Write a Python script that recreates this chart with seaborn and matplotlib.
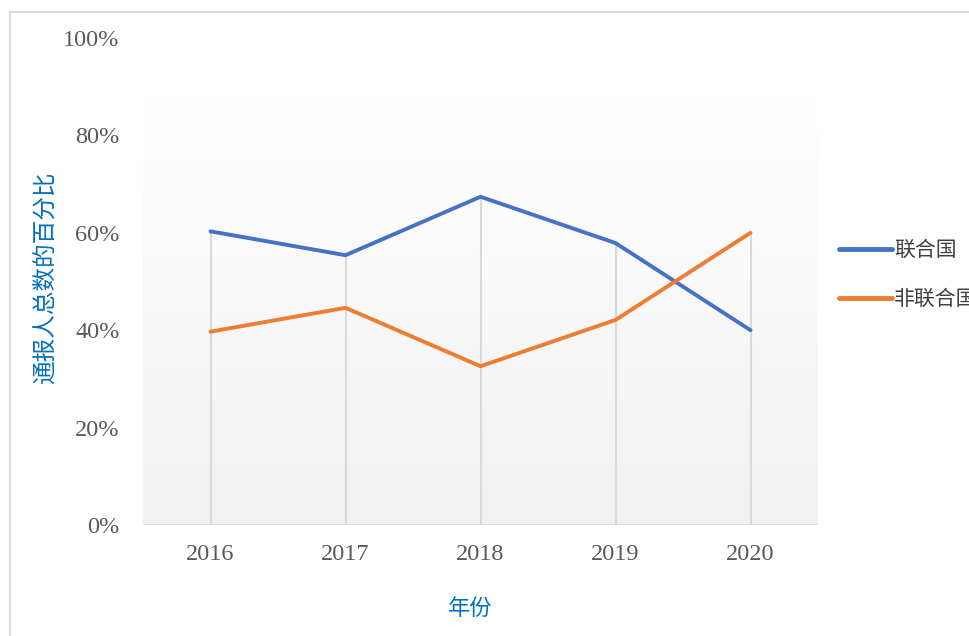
import matplotlib
matplotlib.use("Agg")
import matplotlib.pyplot as plt
from matplotlib.colors import LinearSegmentedColormap
from matplotlib.patches import Rectangle
from matplotlib.lines import Line2D
from matplotlib.ticker import PercentFormatter
import seaborn as sns
import numpy as np
import pandas as pd

years = [2016, 2017, 2018, 2019, 2020]
un_share = [0.603, 0.554, 0.674, 0.579, 0.400]
non_un_share = [0.397, 0.446, 0.326, 0.421, 0.600]
series_names = ["联合国", "非联合国"]
y_ticks = [0, 0.2, 0.4, 0.6, 0.8, 1.0]

df = pd.DataFrame({
    "年份": years * 2,
    "比例": un_share + non_un_share,
    "类别": [series_names[0]] * len(years) + [series_names[1]] * len(years),
})

sns.set_theme(style="white")
plt.rcParams["font.family"] = ["Liberation Serif", "Noto Sans CJK SC"]

fig = plt.figure(figsize=(9.7, 6.36), dpi=100)
ax = fig.add_axes([143 / 970, 1 - 525 / 636, (818 - 143) / 970, (525 - 38) / 636])

# gradient plot area (Excel style), top edge sits a little below 100%
grad = LinearSegmentedColormap.from_list("g", ["#ffffff", "#f1f1f1"])
top = (525 - 100) / 487
ax.imshow(np.linspace(0, 1, 256).reshape(-1, 1), cmap=grad, aspect="auto",
          extent=[2015.5, 2020.5, 0, top], origin="upper", zorder=0)

# drop lines up to the highest value of each year
highs = np.maximum(un_share, non_un_share)
ax.vlines(years, 0, highs, color="#d9d9d9", lw=1.5, zorder=1)
ax.axhline(0, color="#d9d9d9", lw=1.8, zorder=1)

sns.lineplot(data=df, x="年份", y="比例", hue="类别", ax=ax,
             palette=["#4472C4", "#ED7D31"], linewidth=2.8, legend=False,
             zorder=3)
for ln in ax.get_lines():
    ln.set_solid_capstyle("round")
    ln.set_solid_joinstyle("round")

ax.set_xlim(2015.5, 2020.5)
ax.set_ylim(0, 1)
ax.set_xticks(years)
ax.set_yticks(y_ticks)
ax.yaxis.set_major_formatter(PercentFormatter(1.0, decimals=0))
for s in ax.spines.values():
    s.set_visible(False)
ax.tick_params(axis="both", length=0, labelsize=17.5, colors="#595959")
ax.tick_params(axis="y", pad=17)
ax.tick_params(axis="x", pad=14)

ax.set_xlabel("年份", fontsize=16, color="#0070C0", family="Noto Sans CJK SC", labelpad=0)
ax.xaxis.set_label_coords((470 - 143) / 675, (525 - 597) / 487)
ax.set_ylabel("通报人总数的百分比", fontsize=17, color="#0070C0", family="Noto Sans CJK SC")
ax.yaxis.set_label_coords((57 - 143) / 675, (525 - 278) / 487)

# legend
handles = [Line2D([], [], color=c, lw=3.5, solid_capstyle="round") for c in ["#4472C4", "#ED7D31"]]
leg = fig.legend(handles, series_names, loc="upper left",
                 bbox_to_anchor=(839 / 970, 1 - 239 / 636), frameon=False,
                 borderpad=0, borderaxespad=0, handlelength=2.55, handletextpad=0.1,
                 labelspacing=1.3, prop={"family": "Noto Sans CJK SC", "size": 15})
for t in leg.get_texts():
    t.set_color("#404040")

# outer chart border
fig.patches.append(Rectangle((10 / 970, -0.1), 1.2, 1.1 - 12 / 636,
                             transform=fig.transFigure, fill=False,
                             edgecolor="#d9d9d9", lw=1.5, clip_on=False))

fig.savefig("out.png", dpi=100)
